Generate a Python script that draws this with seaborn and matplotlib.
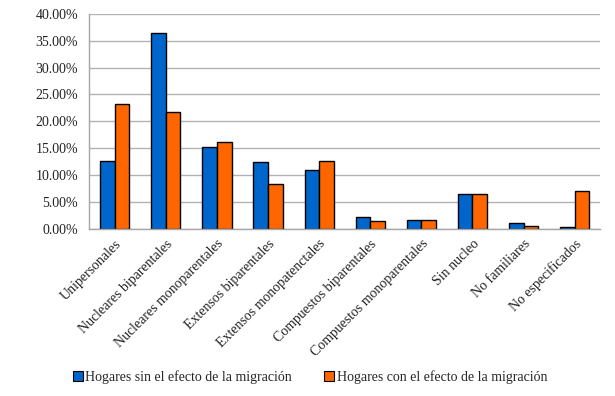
import matplotlib
matplotlib.use("Agg")
import matplotlib.pyplot as plt
import seaborn as sns
import pandas as pd
from matplotlib.ticker import FuncFormatter, MultipleLocator
from matplotlib.patches import Patch

categories = ["Unipersonales", "Nucleares biparentales", "Nucleares monoparentales",
              "Extensos biparentales", "Extensos monopatenctales", "Compuestos biparentales",
              "Compuestos monoparentales", "Sin nucleo", "No familiares", "No especificados"]
series_names = ["Hogares sin el efecto de la migración", "Hogares con el efecto de la migración"]
sin_migracion = [12.6, 36.5, 15.3, 12.5, 11.0, 2.2, 1.7, 6.5, 1.1, 0.4]
con_migracion = [23.3, 21.8, 16.2, 8.4, 12.7, 1.5, 1.7, 6.4, 0.6, 7.1]
colors = ["#0066CC", "#FF6600"]

df = pd.DataFrame({
    "cat": categories * 2,
    "serie": [series_names[0]] * len(categories) + [series_names[1]] * len(categories),
    "val": sin_migracion + con_migracion,
})

sns.set_style("white")
plt.rcParams["font.family"] = ["Liberation Serif", "DejaVu Serif"]

fig = plt.figure(figsize=(6.15, 3.96), dpi=100)
ax = fig.add_axes([0.145, 0.422, 0.831, 0.543])
sns.barplot(data=df, x="cat", y="val", hue="serie", palette=colors, width=0.57,
            edgecolor="black", linewidth=1.0, ax=ax, legend=False, saturation=1)

ax.set_ylim(0, 40)
ax.yaxis.set_major_locator(MultipleLocator(5))
ax.yaxis.set_major_formatter(FuncFormatter(lambda v, p: f"{v:.2f}%"))
ax.grid(axis="y", color="#B3B3B3", linewidth=1.0)
ax.set_axisbelow(True)
for s in ["top", "right"]:
    ax.spines[s].set_visible(False)
for s in ["left", "bottom"]:
    ax.spines[s].set_color("#A6A6A6")
    ax.spines[s].set_linewidth(1.0)
ax.set_xlabel("")
ax.set_ylabel("")
ax.tick_params(axis="both", length=0, labelsize=10, colors="#222222")
ax.tick_params(axis="y", pad=8)
ax.set_xticks(range(len(categories)))
ax.set_xticklabels(categories, rotation=45, ha="right", rotation_mode="anchor")
ax.tick_params(axis="x", pad=6)

handles = [Patch(facecolor=c, edgecolor="black", linewidth=0.8) for c in colors]
fig.legend(handles, series_names, loc="center", bbox_to_anchor=(0.504, 0.048), ncol=2,
           frameon=False, fontsize=10, handlelength=0.7, handleheight=0.7,
           handletextpad=0.2, columnspacing=2.3)

fig.savefig("out.png", dpi=100)
